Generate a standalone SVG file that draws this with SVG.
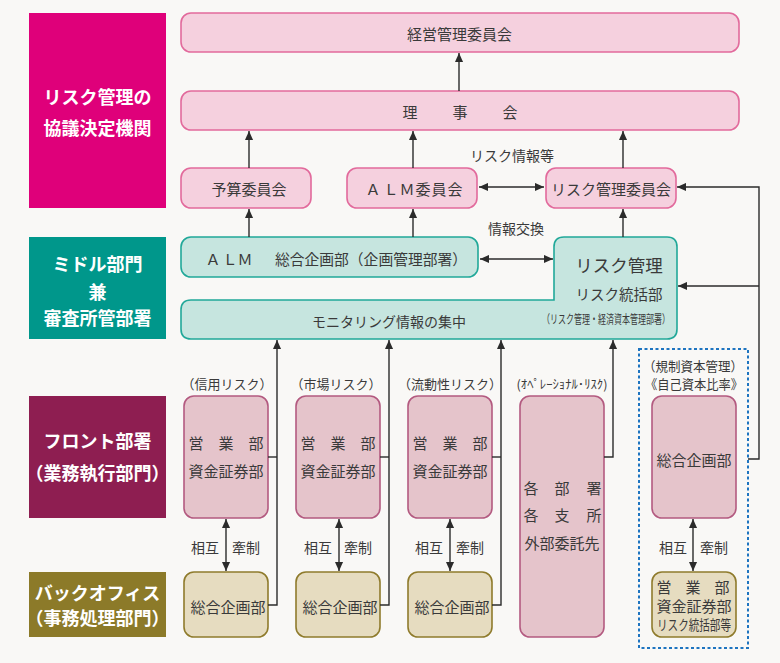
<svg xmlns="http://www.w3.org/2000/svg" width="780" height="663" viewBox="0 0 780 663">
<defs>
<marker id="ah" viewBox="0 0 10 10" refX="10" refY="5" markerWidth="9" markerHeight="9" orient="auto-start-reverse" markerUnits="userSpaceOnUse"><path d="M0,0.5 L10,5 L0,9.5 z" fill="#2b2b2b"/></marker>
<style>
text{font-family:"Noto Sans CJK JP","Noto Sans",sans-serif;fill:#3a3a3a;dominant-baseline:central;text-anchor:middle}
.hd{fill:#fff;font-size:18px;font-weight:bold}
.top{fill:#f5d0de;stroke:#e26a9c;stroke-width:1.6}
.mid{fill:#c6e5df;stroke:#21a899;stroke-width:1.6}
.fr{fill:#e5c4cb;stroke:#b35a80;stroke-width:1.6}
.bk{fill:#e6dcc0;stroke:#8f7b2c;stroke-width:1.6}
.t15{font-size:15px}
.t14{font-size:14px}
.t13{font-size:13px}
.cn{fill:none;stroke:#2b2b2b;stroke-width:1.4}
.ar{marker-end:url(#ah)}
.da{marker-start:url(#ah);marker-end:url(#ah)}
</style>
</defs>
<rect x="0" y="0" width="780" height="663" fill="#f9f8f6"/>

<g id="label-kyogi">
<rect x="29" y="13" width="137" height="195" fill="#df007a"/>
<text class="hd" x="97.5" y="96">リスク管理の</text>
<text class="hd" x="97.5" y="127">協議決定機関</text>
</g>
<g id="label-middle">
<rect x="29" y="237" width="137" height="102" fill="#00978b"/>
<text class="hd" x="97.5" y="263">ミドル部門</text>
<text class="hd" x="97.5" y="291">兼</text>
<text class="hd" x="97.5" y="317">審査所管部署</text>
</g>
<g id="label-front">
<rect x="29" y="396" width="137" height="122" fill="#8e1e51"/>
<text class="hd" x="97.5" y="440">フロント部署</text>
<text class="hd" x="97.5" y="472">（業務執行部門）</text>
</g>
<g id="label-back">
<rect x="29" y="572" width="137" height="65" fill="#8c7a29"/>
<text class="hd" x="97.5" y="592">バックオフィス</text>
<text class="hd" x="97.5" y="617">（事務処理部門）</text>
</g>

<g id="keiei">
<rect class="top" x="181" y="13" width="558" height="39" rx="10"/>
<text class="t15" x="459.5" y="33">経営管理委員会</text>
</g>
<g id="rijikai">
<rect class="top" x="181" y="91" width="558" height="39" rx="10"/>
<text class="t15" x="410 460 510" y="111">理事会</text>
</g>
<g id="yosan">
<rect class="top" x="181" y="168" width="130" height="40" rx="10"/>
<text class="t15" x="249" y="188">予算委員会</text>
</g>
<g id="alm-iinkai">
<rect class="top" x="347" y="168" width="130" height="40" rx="10"/>
<text class="t15" x="373 391 407 423 439 455" y="188">ＡＬＭ委員会</text>
</g>
<g id="risk-iinkai">
<rect class="top" x="546" y="168" width="130" height="40" rx="10"/>
<text class="t15" x="611" y="188">リスク管理委員会</text>
</g>

<g id="alm-sogo">
<rect class="mid" x="181" y="237" width="297" height="40" rx="10"/>
<text class="t15" y="258"><tspan x="213">Ａ</tspan><tspan x="230">Ｌ</tspan><tspan x="245">Ｍ</tspan><tspan x="371" textLength="192" lengthAdjust="spacingAndGlyphs">総合企画部（企画管理部署）</tspan></text>
</g>
<g id="risk-monitoring">
<path class="mid" d="M191,300 H554 V247 Q554,237 564,237 H667 Q677,237 677,247 V329 Q677,339 667,339 H191 Q181,339 181,329 V310 Q181,300 191,300 Z"/>
<text x="619" y="264" style="font-size:17.5px">リスク管理</text>
<text x="619" y="293" style="font-size:14.5px">リスク統括部</text>
<text x="606" y="318" style="font-size:12px" textLength="128" lengthAdjust="spacingAndGlyphs">（リスク管理・経済資本管理部署）</text>
<text class="t14" x="389" y="321">モニタリング情報の集中</text>
</g>

<g id="col-labels">
<text class="t13" x="227" y="383">（信用リスク）</text>
<text class="t13" x="336" y="383">（市場リスク）</text>
<text class="t13" x="450" y="383">（流動性リスク）</text>
<text x="562" y="383" style="font-size:12.5px" textLength="91" lengthAdjust="spacingAndGlyphs">(ｵﾍﾟﾚｰｼｮﾅﾙ･ﾘｽｸ)</text>
</g>

<g id="front-shinyo">
<rect class="fr" x="184" y="396" width="84" height="122" rx="10"/>
<text class="t15" x="196 226 256" y="442">営業部</text>
<text class="t15" x="226" y="470">資金証券部</text>
</g>
<g id="front-shijo">
<rect class="fr" x="296" y="396" width="84" height="122" rx="10"/>
<text class="t15" x="308 338 368" y="442">営業部</text>
<text class="t15" x="338" y="470">資金証券部</text>
</g>
<g id="front-ryudo">
<rect class="fr" x="408" y="396" width="84" height="122" rx="10"/>
<text class="t15" x="420 450 480" y="442">営業部</text>
<text class="t15" x="450" y="470">資金証券部</text>
</g>
<g id="front-ope">
<rect class="fr" x="520" y="396" width="84" height="241" rx="10"/>
<text class="t15" x="531 562 594" y="487">各部署</text>
<text class="t15" x="531 562 594" y="514">各支所</text>
<text class="t15" x="562" y="542">外部委託先</text>
</g>
<g id="kisei-box">
<rect x="639" y="349" width="109" height="299" fill="none" stroke="#1e74c0" stroke-width="2" stroke-dasharray="3 2.5"/>
<text style="font-size:13px"><tspan x="693" y="365" textLength="100" lengthAdjust="spacingAndGlyphs">（規制資本管理）</tspan><tspan x="694" y="383" textLength="98" lengthAdjust="spacingAndGlyphs">《自己資本比率》</tspan></text>
</g>
<g id="front-kisei">
<rect class="fr" x="652" y="396" width="84" height="122" rx="10"/>
<text class="t15" x="694" y="459">総合企画部</text>
</g>

<g id="back-shinyo">
<rect class="bk" x="184" y="572" width="84" height="65" rx="10"/>
<text class="t15" x="228" y="606">総合企画部</text>
</g>
<g id="back-shijo">
<rect class="bk" x="296" y="572" width="84" height="65" rx="10"/>
<text class="t15" x="340" y="606">総合企画部</text>
</g>
<g id="back-ryudo">
<rect class="bk" x="408" y="572" width="84" height="65" rx="10"/>
<text class="t15" x="452" y="606">総合企画部</text>
</g>
<g id="back-kisei">
<rect class="bk" x="652" y="572" width="84" height="65" rx="10"/>
<text class="t15" x="664 693 722" y="586">営業部</text>
<text class="t15" x="694" y="605">資金証券部</text>
<text x="694" y="624" style="font-size:14px" textLength="74" lengthAdjust="spacingAndGlyphs">リスク統括部等</text>
</g>

<g id="connectors">
<path class="cn ar" d="M459,91 V53"/>
<path class="cn ar" d="M249,168 V131"/>
<path class="cn ar" d="M413,168 V131"/>
<path class="cn ar" d="M623,168 V131"/>
<path class="cn da" d="M479,187 H544"/>
<path class="cn ar" d="M748,459 H759 V187 H677"/>
<path class="cn ar" d="M759,286 H678"/>
<path class="cn ar" d="M249,237 V209"/>
<path class="cn ar" d="M413,237 V209"/>
<path class="cn ar" d="M623,237 V209"/>
<path class="cn da" d="M480,259 H553"/>
<path class="cn" d="M268,457 H277"/>
<path class="cn ar" d="M268,605 H277 V340"/>
<path class="cn" d="M380,457 H389"/>
<path class="cn ar" d="M380,605 H389 V340"/>
<path class="cn" d="M492,457 H501"/>
<path class="cn ar" d="M492,605 H501 V340"/>
<path class="cn ar" d="M604,457 H613 V340"/>
<path class="cn da" d="M226,519 V571"/>
<path class="cn da" d="M339,519 V571"/>
<path class="cn da" d="M450,519 V571"/>
<path class="cn da" d="M693,519 V571"/>
</g>
<g id="connector-labels">
<text class="t14" x="512" y="155">リスク情報等</text>
<text class="t14" x="516" y="228">情報交換</text>
<text class="t14" x="205" y="547">相互</text>
<text class="t14" x="246" y="547">牽制</text>
<text class="t14" x="318" y="547">相互</text>
<text class="t14" x="358" y="547">牽制</text>
<text class="t14" x="429" y="547">相互</text>
<text class="t14" x="470" y="547">牽制</text>
<text class="t14" x="673" y="547">相互</text>
<text class="t14" x="714" y="547">牽制</text>
</g>
</svg>
